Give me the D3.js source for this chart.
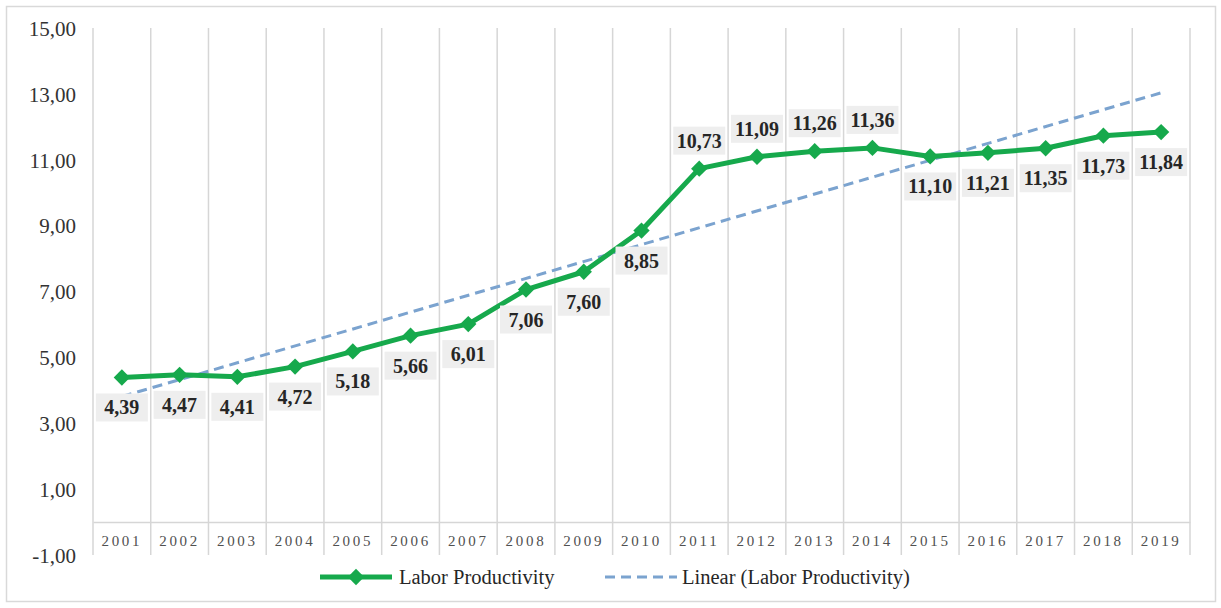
<!DOCTYPE html>
<html><head><meta charset="utf-8">
<script src="https://cdn.jsdelivr.net/npm/d3@7/dist/d3.min.js"></script>
<style>
html,body{margin:0;padding:0;background:#fff;}
svg text{font-family:"Liberation Serif","Tinos","Times New Roman","DejaVu Serif",serif;}
</style></head>
<body>
<svg id="chart" width="1221" height="608"></svg>
<script>
const years = ["2001","2002","2003","2004","2005","2006","2007","2008","2009","2010","2011","2012","2013","2014","2015","2016","2017","2018","2019"];
const productivity = [4.39,4.47,4.41,4.72,5.18,5.66,6.01,7.06,7.60,8.85,10.73,11.09,11.26,11.36,11.10,11.21,11.35,11.73,11.84];
const labelAbove = [false,false,false,false,false,false,false,false,false,false,true,true,true,true,false,false,false,false,false];
const yTicks = [-1,1,3,5,7,9,11,13,15];
const seriesName = "Labor Productivity";
const trendName = "Linear (Labor Productivity)";

const fmt = v => v.toFixed(2).replace(".", ",");
const FONT = '"Liberation Serif","Tinos","Times New Roman","DejaVu Serif",serif';

const svg = d3.select("#chart");
const mLeft = 93, mRight = 1190, mTop = 28, mBottom = 555;

svg.append("rect").attr("x",6.5).attr("y",6.5).attr("width",1209).attr("height",595)
  .attr("fill","#fff").attr("stroke","#d9d9d9").attr("stroke-width",1.5);

const x = d3.scaleBand().domain(years).range([mLeft,mRight]).paddingInner(0).paddingOuter(0);
const y = d3.scaleLinear().domain([-1,15]).range([mBottom,mTop]);

const bounds = years.map(d => x(d)).concat([mRight]);
svg.append("g").selectAll("line").data(bounds).join("line")
  .attr("x1",d=>d).attr("x2",d=>d).attr("y1",mTop).attr("y2",mBottom)
  .attr("stroke","#d6d6d6").attr("stroke-width",1.5);

const xAxis = d3.axisBottom(x).tickSize(0).tickPadding(0);
const gx = svg.append("g").attr("transform",`translate(0,${y(0)})`).call(xAxis);
gx.attr("font-family",null).attr("font-size",null);
gx.select(".domain").attr("stroke","#d6d6d6").attr("stroke-width",1.5);
gx.selectAll("text").attr("dy",null).attr("y",24)
  .attr("fill","#505050").style("font-size","15px").style("letter-spacing","2.7px")
  .style("font-family",FONT);

const yAxis = d3.axisLeft(y).tickValues(yTicks).tickSize(0).tickPadding(0).tickFormat(fmt);
const gy = svg.append("g").attr("transform",`translate(76,0)`).call(yAxis);
gy.attr("font-family",null).attr("font-size",null);
gy.select(".domain").remove();
gy.selectAll("text").attr("fill","#333333").style("font-size","21px")
  .style("font-family",FONT).attr("dy","0.35em");

const n = productivity.length;
const xs = d3.range(1,n+1);
const mx = d3.mean(xs), my = d3.mean(productivity);
const slope = d3.sum(xs.map((xi,i)=>(xi-mx)*(productivity[i]-my))) / d3.sum(xs.map(xi=>(xi-mx)*(xi-mx)));
const icpt = my - slope*mx;
const cx = d => x(d) + x.bandwidth()/2;
svg.append("line")
  .attr("x1",cx(years[0])).attr("y1",y(icpt+slope*1))
  .attr("x2",cx(years[n-1])).attr("y2",y(icpt+slope*n))
  .attr("stroke","#7ba3cf").attr("stroke-width",3).attr("stroke-dasharray","10,6");

const line = d3.line().x((d,i)=>cx(years[i])).y(d=>y(d));
svg.append("path").datum(productivity).attr("d",line)
  .attr("fill","none").attr("stroke","#16a94c").attr("stroke-width",5).attr("stroke-linejoin","round");

const diamond = d3.symbol().type(d3.symbolDiamond2).size(170);
svg.append("g").selectAll("path").data(productivity).join("path")
  .attr("d",diamond)
  .attr("transform",(d,i)=>`translate(${cx(years[i])},${y(d)})`)
  .attr("fill","#16a94c");

const lg = svg.append("g");
productivity.forEach((v,i)=>{
  const px = cx(years[i]);
  const py = y(v) + (labelAbove[i] ? -28 : 30);
  const g = lg.append("g").attr("transform",`translate(${px},${py})`);
  g.append("rect").attr("x",-26).attr("y",-14).attr("width",52).attr("height",28).attr("fill","#eeeeee");
  g.append("text").attr("text-anchor","middle").attr("dy","0.35em")
    .style("font-family",FONT)
    .style("font-size","20px").style("font-weight","bold").attr("fill","#262626").text(fmt(v));
});

const ly = 577;
const leg = svg.append("g");
leg.append("line").attr("x1",320).attr("x2",392).attr("y1",ly).attr("y2",ly)
  .attr("stroke","#16a94c").attr("stroke-width",5);
leg.append("path").attr("d",diamond).attr("transform",`translate(356,${ly})`).attr("fill","#16a94c");
leg.append("text").attr("x",399).attr("y",ly).attr("dy","0.35em").style("font-family",FONT).style("font-size","20.5px").attr("fill","#262626").text(seriesName);
leg.append("line").attr("x1",605).attr("x2",677).attr("y1",ly).attr("y2",ly)
  .attr("stroke","#7ba3cf").attr("stroke-width",3).attr("stroke-dasharray","10,6");
leg.append("text").attr("x",682).attr("y",ly).attr("dy","0.35em").style("font-family",FONT).style("font-size","20.5px").attr("fill","#262626").text(trendName);
</script>
</body></html>
